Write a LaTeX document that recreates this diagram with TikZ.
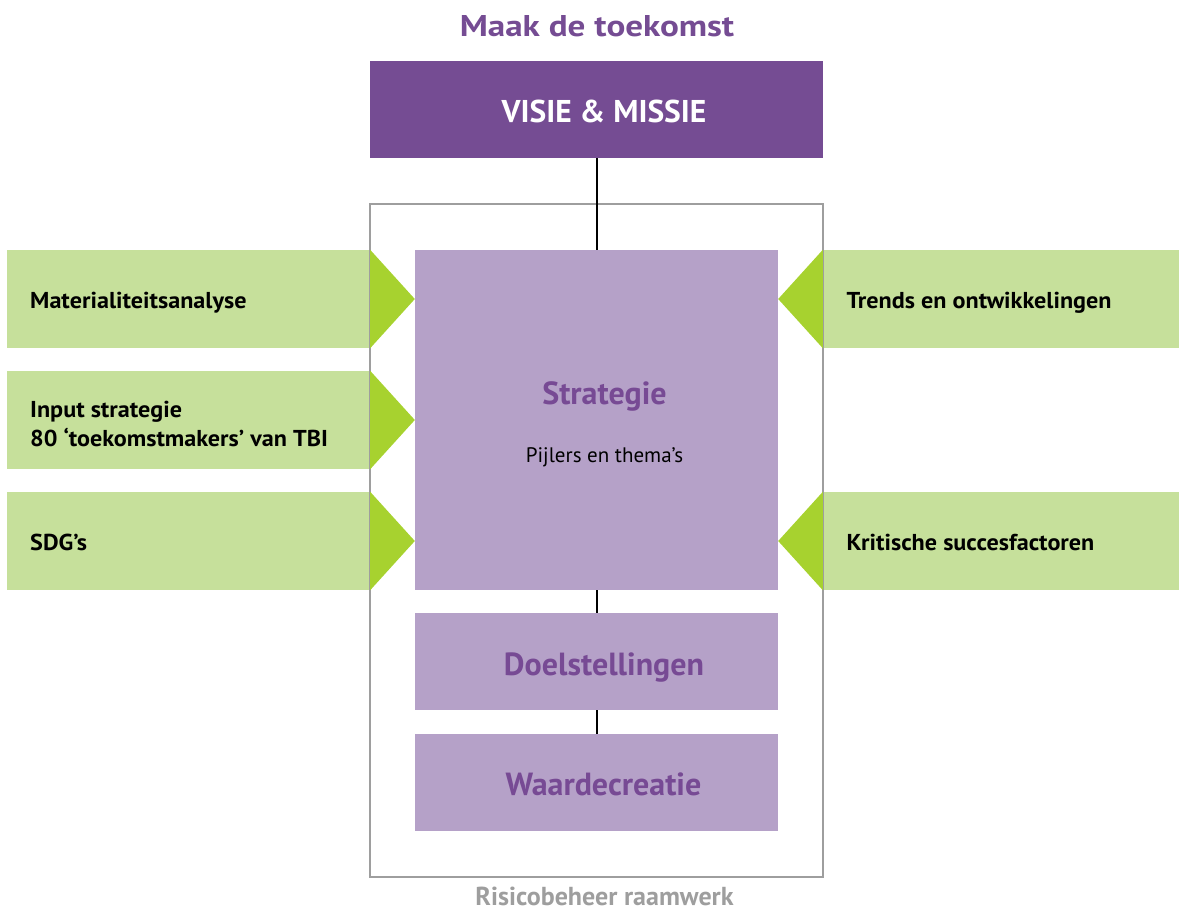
\documentclass[tikz,border=0pt]{standalone}
\usepackage{fontspec}
\setmainfont{PT Sans}
\newfontfamily\greenfont[FakeStretch=1.05]{PT Sans}
\newfontfamily\titlefont[FakeStretch=1.17]{PT Sans}
\definecolor{vpurple}{HTML}{754C93}
\definecolor{lpurple}{HTML}{B5A1C8}
\definecolor{tpurple}{HTML}{774A94}
\definecolor{lgreen}{HTML}{C6E09B}
\definecolor{agreen}{HTML}{A7D22F}
\definecolor{fgray}{HTML}{9E9E9E}
\begin{document}
\begin{tikzpicture}[x=1pt,y=-1pt,
  purplebox/.style={fill=lpurple, minimum width=363pt, inner sep=0pt},
  purpletext/.style={anchor=base, inner sep=0pt, text=tpurple, font=\fontsize{32}{36}\selectfont\bfseries},
  greenbox/.style={fill=lgreen, minimum height=98pt, inner sep=0pt},
  greentext/.style={anchor=base west, inner sep=0pt, align=left, font=\greenfont\fontsize{23}{29}\selectfont\bfseries},
  arrowtip/.style={fill=agreen},
  link/.style={draw=black, line width=2pt}]
\useasboundingbox (0,0) rectangle (1179,914);

\node[anchor=base, inner sep=0pt, text=vpurple, font=\titlefont\fontsize{30}{34}\selectfont\bfseries] (title) at (597,36) {Maak de toekomst};
\node[fill=vpurple, minimum width=453pt, minimum height=97pt, inner sep=0pt] (visie) at (596.5,109.5) {};
\node[anchor=base, inner sep=0pt, text=white, font=\fontsize{31.5}{34}\selectfont\bfseries] (visietxt) at (604,122) {VISIE \& MISSIE};

% green side boxes
\node[greenbox, minimum width=363pt] (mat) at (188.5,299) {};
\node[greenbox, minimum width=363pt] (inp) at (188.5,420) {};
\node[greenbox, minimum width=363pt] (sdg) at (188.5,541) {};
\node[greenbox, minimum width=356pt] (tre) at (1001,299) {};
\node[greenbox, minimum width=356pt] (kri) at (1001,541) {};
\node[greentext] (mattxt) at (30,308) {Materialiteitsanalyse};
\node[greentext] (inptxt) at (30,446) {Input strategie\\80 ‘toekomstmakers’ van TBI};
\node[greentext] (sdgtxt) at (30,550) {SDG’s};
\node[greentext] (tretxt) at (846.5,308) {Trends en ontwikkelingen};
\node[greentext] (kritxt) at (846.5,550) {Kritische succesfactoren};

% outer frame
\node[draw=fgray, line width=1.5pt, minimum width=453pt, minimum height=673pt, inner sep=0pt] (frame) at (596.5,540.5) {};

% purple boxes
\node[purplebox, minimum height=340pt] (strat) at (596.5,420) {};
\node[purplebox, minimum height=97pt] (doel) at (596.5,661.5) {};
\node[purplebox, minimum height=97pt] (waar) at (596.5,782.5) {};
\node[purpletext] (strattxt) at (604.5,404.5) {Strategie};
\node[anchor=base, inner sep=0pt, font=\fontsize{21}{24}\selectfont] (pijl) at (604.5,462) {Pijlers en thema’s};
\node[purpletext] (doeltxt) at (604,675) {Doelstellingen};
\node[purpletext] (waartxt) at (603.5,795) {Waardecreatie};

% arrow tips
\fill[arrowtip] (mat.north east) -- (mat.east -| strat.west) -- (mat.south east) -- cycle;
\fill[arrowtip] (inp.north east) -- (inp.east -| strat.west) -- (inp.south east) -- cycle;
\fill[arrowtip] (sdg.north east) -- (sdg.east -| strat.west) -- (sdg.south east) -- cycle;
\fill[arrowtip] (tre.north west) -- (tre.west -| strat.east) -- (tre.south west) -- cycle;
\fill[arrowtip] (kri.north west) -- (kri.west -| strat.east) -- (kri.south west) -- cycle;

% connectors
\draw[link] (visie.south) -- (strat.north);
\draw[link] (strat.south) -- (doel.north);
\draw[link] (doel.south) -- (waar.north);

\node[anchor=base, inner sep=0pt, text depth=0pt, text=fgray, font=\fontsize{26}{30}\selectfont\bfseries] (risk) at (604.5,905) {Risicobeheer raamwerk};
\end{tikzpicture}
\end{document}
